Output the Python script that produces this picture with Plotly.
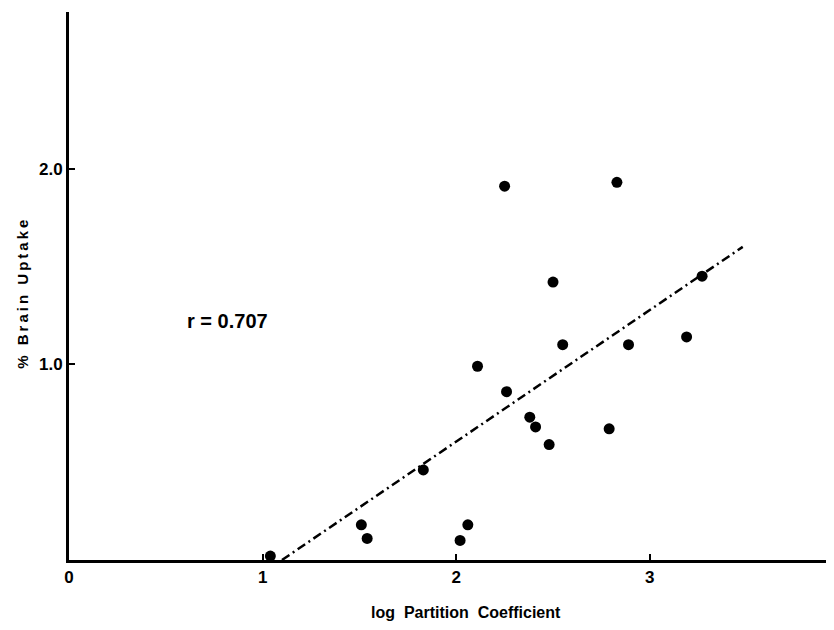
import plotly.graph_objects as go

# Data
log_partition = [1.04, 1.51, 1.54, 1.83, 2.02, 2.06, 2.25, 2.11, 2.26, 2.38, 2.41,
                 2.48, 2.50, 2.55, 2.83, 2.79, 2.89, 3.19, 3.27]
brain_uptake = [0.02, 0.18, 0.11, 0.46, 0.10, 0.18, 1.91, 0.99, 0.86, 0.73, 0.68,
                0.59, 1.42, 1.10, 1.93, 0.67, 1.10, 1.14, 1.45]

fit_x = [1.10, 3.48]
fit_y = [0.0, 1.60]

x_ticks = [0, 1, 2, 3]
x_tick_labels = ["0", "1", "2", "3"]
y_ticks = [1.0, 2.0]
y_tick_labels = ["1.0", "2.0"]

FONT = "Liberation Sans, Arial, sans-serif"
SP = "\u2009"


def spaced(s):
    return SP.join(s)


fig = go.Figure()
fig.add_trace(go.Scatter(
    x=fit_x, y=fit_y, mode="lines",
    line=dict(color="black", width=2.5, dash="9px,4px,2px,4px"),
    hoverinfo="skip", showlegend=False))
fig.add_trace(go.Scatter(
    x=log_partition, y=brain_uptake, mode="markers",
    marker=dict(color="black", size=11),
    showlegend=False))

fig.add_annotation(x=0.82, y=1.22, xref="x", yref="y", text="<b>r = 0.707</b>",
                   xanchor="center", yanchor="middle",
                   showarrow=False, font=dict(family=FONT, size=20, color="black"))
fig.add_annotation(x=-0.0614, y=0.485, xref="paper", yref="paper",
                   xanchor="center", yanchor="middle",
                   text="<b>" + spaced("% Brain Uptake") + "</b>", textangle=-90,
                   showarrow=False, font=dict(family=FONT, size=15, color="black"))
fig.add_annotation(x=0.524, y=-0.095, xref="paper", yref="paper",
                   xanchor="center", yanchor="middle",
                   text="<b>log  Partition  Coefficient</b>",
                   showarrow=False, font=dict(family=FONT, size=16, color="black"))

# page body has an 8px margin: figure sized so that the page is exactly 834x630
fig.update_layout(
    width=818, height=614,
    margin=dict(l=61, r=0, t=4, b=62, autoexpand=False),
    paper_bgcolor="white", plot_bgcolor="white",
    font=dict(family=FONT, color="black"),
)
fig.update_xaxes(range=[0, 3.91], showgrid=False, zeroline=False,
                 showline=True, linecolor="black", linewidth=3,
                 ticks="inside", ticklen=6, tickwidth=2, tickcolor="black",
                 tickvals=x_ticks, ticktext=[f"<b>{t}</b>" for t in x_tick_labels],
                 tickfont=dict(family=FONT, size=17, color="black"))
fig.update_yaxes(range=[0, 2.8], showgrid=False, zeroline=False,
                 showline=True, linecolor="black", linewidth=3,
                 ticks="inside", ticklen=6, tickwidth=2, tickcolor="black",
                 tickvals=y_ticks, ticktext=[f"<b>{t}</b>" for t in y_tick_labels],
                 tickfont=dict(family=FONT, size=17, color="black"))

fig.write_html("out.html")
